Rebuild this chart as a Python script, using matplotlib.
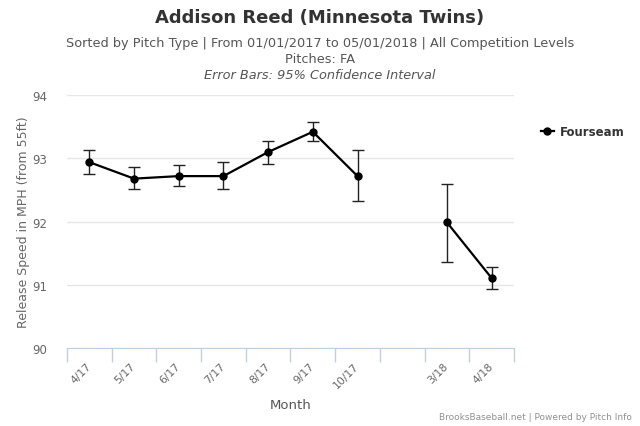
import numpy as np
import matplotlib
matplotlib.use("Agg")
from matplotlib import pyplot as plt

# months shown on the x axis (blank slot = no data, line breaks there)
months = ["4/17", "5/17", "6/17", "7/17", "8/17", "9/17", "10/17", "", "3/18", "4/18"]
speed = [92.94, 92.68, 92.72, 92.72, 93.10, 93.42, 92.72, np.nan, 91.99, 91.11]
ci_high = [93.13, 92.86, 92.89, 92.95, 93.28, 93.58, 93.13, np.nan, 92.60, 91.28]
ci_low = [92.76, 92.51, 92.56, 92.51, 92.91, 93.27, 92.32, np.nan, 91.36, 90.93]
yticks = [90, 91, 92, 93, 94]

plt.rcParams['font.family'] = ['DejaVu Sans']

fig = plt.figure(figsize=(6.4, 4.27), dpi=100)
ax = fig.add_axes([0.1047, 0.182, 0.6983, 0.593])

x = np.arange(len(months))
speed = np.array(speed)
err = np.array([speed - np.array(ci_low), np.array(ci_high) - speed])

ax.plot(x, speed, '-o', color='black', lw=1.6, markersize=5, label='Fourseam', zorder=3)
ax.errorbar(x, speed, yerr=err, fmt='none', ecolor='#222222', elinewidth=1.0,
            capsize=4.5, capthick=1.0, zorder=2)

ax.set_xlim(-0.5, len(months) - 0.5)
ax.set_ylim(90, 94)
ax.set_yticks(yticks)
ax.set_yticklabels([str(v) for v in yticks], color='#666666', fontsize=8.5)
ax.grid(axis='y', color='#e6e6e6', lw=1)
ax.set_axisbelow(True)

# boundary ticks with no labels, labels at category centers
ax.set_xticks(np.arange(len(months) + 1) - 0.5)
ax.set_xticklabels([])
ax.set_xticks(x - 0.08, minor=True)
ax.set_xticklabels(months, minor=True, rotation=45, ha='right', va='top',
                   rotation_mode='anchor', color='#666666', fontsize=7.8)
ax.tick_params(axis='x', which='major', length=10, color='#C0D0E0', width=1)
ax.tick_params(axis='x', which='minor', length=0, pad=9)
ax.tick_params(axis='y', length=0, pad=14)

for s in ['top', 'right', 'left']:
    ax.spines[s].set_visible(False)
ax.spines['bottom'].set_color('#C0D0E0')

ax.set_ylabel("Release Speed in MPH (from 55ft)", color='#666666', fontsize=9, labelpad=2)
ax.set_xlabel("Month", color='#555555', fontsize=9.5, labelpad=6)

fig.text(0.5, 0.958, "Addison Reed (Minnesota Twins)", ha='center', va='center',
         fontsize=13, fontweight='bold', color='#333333')
fig.text(0.5, 0.897, "Sorted by Pitch Type | From 01/01/2017 to 05/01/2018 | All Competition Levels",
         ha='center', va='center', fontsize=9.3, color='#555555')
fig.text(0.5, 0.86, "Pitches: FA", ha='center', va='center', fontsize=9.3, color='#555555')
fig.text(0.5, 0.823, "Error Bars: 95% Confidence Interval", ha='center', va='center',
         fontsize=9.3, color='#555555', style='italic')
fig.text(0.988, 0.022, "BrooksBaseball.net | Powered by Pitch Info", ha='right', va='center',
         fontsize=6.5, color='#909090')

fig.legend(loc='center left', bbox_to_anchor=(0.828, 0.69), frameon=False,
           handlelength=1.1, handletextpad=0.5,
           prop={'weight': 'bold', 'size': 8.5}, labelcolor='#333333')

fig.savefig("out.png", dpi=100)
